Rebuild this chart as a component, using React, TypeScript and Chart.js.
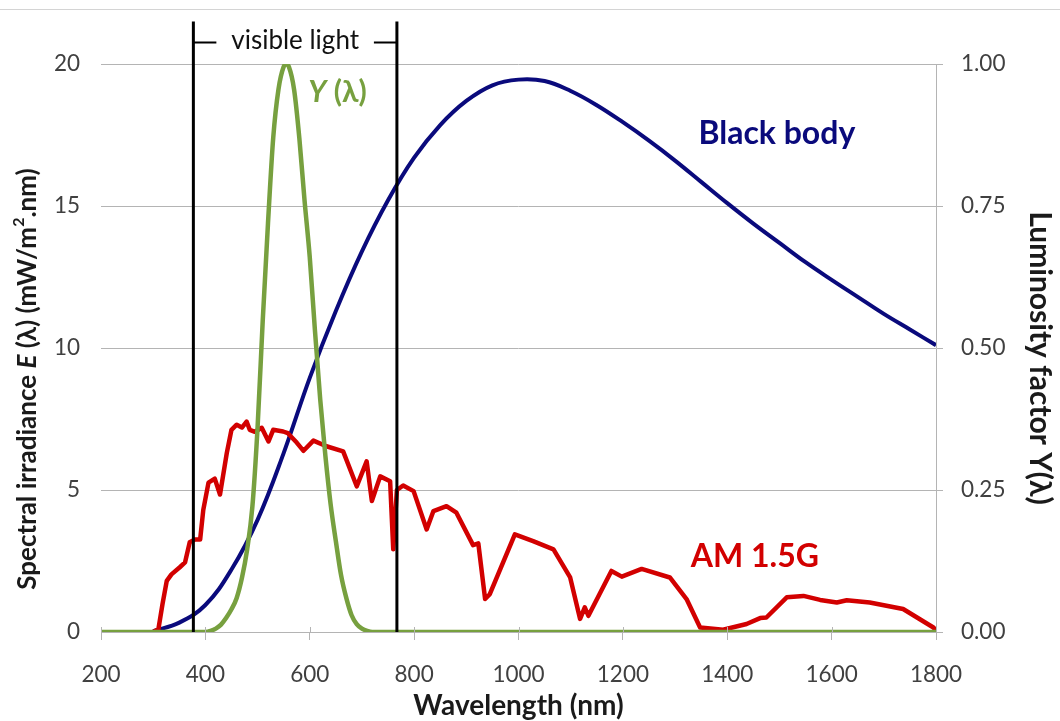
import React, { useEffect, useRef } from 'react';
import { Chart, registerables } from 'chart.js';

Chart.register(...registerables);

// ---- Data ----
const xTickValues = [200, 400, 600, 800, 1000, 1200, 1400, 1600, 1800];
const leftTickValues = [0, 5, 10, 15, 20];
const rightTickValues = [0, 0.25, 0.5, 0.75, 1.0];

const amWavelengths = [300, 310, 318, 326, 335, 351, 361, 370, 380, 390, 396, 406, 418, 428, 441, 450, 460, 470, 479, 485, 495, 508, 521, 530, 549, 558, 575, 588, 607, 632, 664, 690, 709, 719, 735, 754, 760, 767, 779, 799, 824, 837, 862, 881, 913, 923, 936, 945, 993, 1028, 1067, 1099, 1118, 1127, 1134, 1178, 1198, 1236, 1290, 1322, 1348, 1392, 1437, 1463, 1475, 1514, 1546, 1578, 1610, 1629, 1673, 1737, 1795, 1800];
const amIrradiance = [0, 0.1, 1.0, 1.8, 2.03, 2.28, 2.45, 3.16, 3.26, 3.26, 4.3, 5.26, 5.4, 4.84, 6.3, 7.12, 7.3, 7.2, 7.41, 7.12, 7.05, 7.19, 6.71, 7.12, 7.06, 7.0, 6.67, 6.38, 6.74, 6.54, 6.36, 5.13, 6.01, 4.61, 5.48, 5.31, 2.91, 5.0, 5.16, 4.96, 3.61, 4.26, 4.43, 4.2, 3.06, 3.12, 1.16, 1.33, 3.44, 3.2, 2.91, 1.92, 0.46, 0.87, 0.57, 2.15, 1.95, 2.22, 1.92, 1.16, 0.16, 0.08, 0.28, 0.49, 0.51, 1.22, 1.27, 1.13, 1.04, 1.12, 1.04, 0.81, 0.16, 0.05];

const bbWavelengths = [300, 350, 400, 450, 500, 550, 600, 650, 700, 750, 800, 850, 900, 950, 1000, 1050, 1100, 1150, 1200, 1250, 1300, 1350, 1400, 1450, 1500, 1550, 1600, 1650, 1700, 1750, 1800];
const bbIrradiance = [0.03, 0.33, 0.95, 2.2, 3.95, 6.3, 8.95, 11.3, 13.4, 15.2, 16.7, 17.85, 18.7, 19.25, 19.45, 19.4, 19.05, 18.55, 17.95, 17.3, 16.6, 15.85, 15.1, 14.38, 13.7, 13.02, 12.4, 11.8, 11.2, 10.65, 10.1];

const lumWavelengths = [200, 380, 400, 410, 420, 430, 440, 450, 460, 470, 480, 490, 500, 510, 520, 530, 540, 550, 555, 560, 570, 580, 590, 600, 610, 620, 630, 640, 650, 660, 670, 680, 690, 700, 710, 720, 740, 1800];
const lumFactor = [0, 0, 0, 0.002, 0.006, 0.013, 0.025, 0.04, 0.06, 0.095, 0.145, 0.22, 0.36, 0.55, 0.72, 0.87, 0.955, 0.995, 1.0, 0.995, 0.955, 0.87, 0.76, 0.66, 0.53, 0.41, 0.31, 0.225, 0.16, 0.1, 0.06, 0.03, 0.014, 0.006, 0.002, 0, 0, 0];

const visibleBounds = [377, 767];
const visibleLineRange = [0, 21.5];
const visibleBracketLevel = 20.76;

const COLORS = {
  red: '#d20000',
  navy: '#0a0a7c',
  green: '#77a03f',
  grid: '#b4b4b4',
  tick: '#404040',
  text: '#1a1a1a',
};

const FONT = 'Lato, "Open Sans", sans-serif';

type Part = { text: string; font: string; dy?: number };

function drawRich(ctx: CanvasRenderingContext2D, parts: Part[], cx: number, cy: number, angle: number, color: string) {
  ctx.save();
  ctx.translate(cx, cy);
  ctx.rotate(angle);
  ctx.fillStyle = color;
  ctx.textBaseline = 'middle';
  ctx.textAlign = 'left';
  let total = 0;
  const widths = parts.map((p) => {
    ctx.font = p.font;
    const w = ctx.measureText(p.text).width;
    total += w;
    return w;
  });
  let x = -total / 2;
  parts.forEach((p, i) => {
    ctx.font = p.font;
    ctx.fillText(p.text, x, p.dy || 0);
    x += widths[i];
  });
  ctx.restore();
}

const annotationPlugin = {
  id: 'annotations',
  beforeDraw(chart: any) {
    const ctx = chart.ctx as CanvasRenderingContext2D;
    ctx.save();
    ctx.strokeStyle = '#d4d4d4';
    ctx.lineWidth = 1;
    ctx.beginPath();
    ctx.moveTo(0, 9.5);
    ctx.lineTo(chart.width, 9.5);
    ctx.stroke();
    ctx.restore();
  },
  afterDraw(chart: any) {
    const ctx = chart.ctx as CanvasRenderingContext2D;
    const xs = chart.scales.x;
    const ys = chart.scales.y;
    const area = chart.chartArea;

    // inner half of x tick marks
    ctx.save();
    ctx.strokeStyle = COLORS.grid;
    ctx.lineWidth = 1;
    const y0 = ys.getPixelForValue(0);
    xTickValues.forEach((v) => {
      const px = Math.round(xs.getPixelForValue(v)) + 0.5;
      ctx.beginPath();
      ctx.moveTo(px, y0 - 5);
      ctx.lineTo(px, y0);
      ctx.stroke();
    });
    ctx.restore();

    // visible light bracket
    const xl = xs.getPixelForValue(visibleBounds[0]);
    const xr = xs.getPixelForValue(visibleBounds[1]);
    const yb = ys.getPixelForValue(visibleBracketLevel);
    ctx.save();
    ctx.strokeStyle = '#000';
    ctx.lineWidth = 2;
    ctx.beginPath();
    ctx.moveTo(xl, yb);
    ctx.lineTo(xl + 23, yb);
    ctx.moveTo(xr - 23, yb);
    ctx.lineTo(xr, yb);
    ctx.stroke();
    ctx.restore();
    drawRich(ctx, [{ text: 'visible light', font: `26px ${FONT}` }], (xl + xr) / 2, yb - 2, 0, '#111');

    // series labels
    drawRich(ctx, [{ text: 'Black body', font: `bold 32px ${FONT}` }], xs.getPixelForValue(1495), ys.getPixelForValue(17.55), 0, COLORS.navy);
    drawRich(ctx, [{ text: 'AM 1.5G', font: `bold 32px ${FONT}` }], xs.getPixelForValue(1453), ys.getPixelForValue(2.65), 0, COLORS.red);
    ctx.save();
    ctx.font = `italic bold 30px ${FONT}`;
    const wY = ctx.measureText('Y').width;
    ctx.font = `bold 30px ${FONT}`;
    const wL = ctx.measureText(' (λ)').width;
    ctx.restore();
    drawRich(ctx, [
      { text: 'Y', font: `italic bold 30px ${FONT}` },
      { text: ' (λ)', font: `bold 30px ${FONT}` },
    ], xs.getPixelForValue(597) + (wY + wL) / 2, ys.getPixelForValue(19.02), 0, COLORS.green);

    // axis titles
    const cxArea = (area.left + area.right) / 2;
    drawRich(ctx, [{ text: 'Wavelength (nm)', font: `bold 28px ${FONT}` }], cxArea, 706, 0, COLORS.text);
    drawRich(ctx, [
      { text: 'Spectral irradiance ', font: `bold 26px ${FONT}` },
      { text: 'E', font: `italic bold 26px ${FONT}` },
      { text: ' (λ) (mW/m', font: `bold 26px ${FONT}` },
      { text: '2', font: `bold 16px ${FONT}`, dy: -9 },
      { text: '.nm)', font: `bold 26px ${FONT}` },
    ], 28, 379, -Math.PI / 2, COLORS.text);
    drawRich(ctx, [{ text: 'Luminosity factor Y(λ)', font: `bold 30px ${FONT}` }], 1040, 358, Math.PI / 2, COLORS.text);
  },
};

export default function App() {
  const canvasRef = useRef<HTMLCanvasElement | null>(null);

  useEffect(() => {
    if (!canvasRef.current) return;
    const xyPairs = (xs: number[], ys: number[]) => xs.map((x, i) => ({ x, y: ys[i] }));

    const chart = new Chart(canvasRef.current, {
      type: 'line',
      data: {
        datasets: [
          {
            label: 'Visible start',
            data: visibleLineRange.map((y) => ({ x: visibleBounds[0], y })),
            borderColor: '#000',
            borderWidth: 3,
            pointRadius: 0,
            yAxisID: 'y',
            clip: false as any,
            order: 0,
          },
          {
            label: 'Visible end',
            data: visibleLineRange.map((y) => ({ x: visibleBounds[1], y })),
            borderColor: '#000',
            borderWidth: 3,
            pointRadius: 0,
            yAxisID: 'y',
            clip: false as any,
            order: 0,
          },
          {
            label: 'Y(λ)',
            data: xyPairs(lumWavelengths, lumFactor),
            borderColor: COLORS.green,
            borderWidth: 4.5,
            pointRadius: 0,
            cubicInterpolationMode: 'monotone',
            yAxisID: 'y2',
            order: 1,
          },
          {
            label: 'AM 1.5G',
            data: xyPairs(amWavelengths, amIrradiance),
            borderColor: COLORS.red,
            borderWidth: 4.5,
            borderJoinStyle: 'round',
            borderCapStyle: 'round',
            pointRadius: 0,
            tension: 0,
            yAxisID: 'y',
            order: 2,
          },
          {
            label: 'Black body',
            data: xyPairs(bbWavelengths, bbIrradiance),
            borderColor: COLORS.navy,
            borderWidth: 4,
            pointRadius: 0,
            tension: 0.4,
            yAxisID: 'y',
            order: 3,
          },
        ],
      },
      options: {
        animation: false,
        responsive: true,
        maintainAspectRatio: false,
        layout: { padding: { top: 64, left: 0, right: 0, bottom: 0 } },
        plugins: {
          legend: { display: false },
          tooltip: { enabled: false },
        },
        scales: {
          x: {
            type: 'linear',
            min: 200,
            max: 1800,
            afterBuildTicks: (scale: any) => {
              scale.ticks = xTickValues.map((value) => ({ value }));
            },
            afterFit: (scale: any) => {
              scale.height = 89;
            },
            ticks: {
              callback: (v: any) => String(v),
              font: { family: FONT, size: 22.5 },
              color: COLORS.tick,
              padding: 21,
              maxRotation: 0,
            },
            grid: { drawOnChartArea: false, color: COLORS.grid, tickLength: 8 },
            border: { display: true, color: COLORS.grid },
          },
          y: {
            type: 'linear',
            position: 'left',
            min: 0,
            max: 20,
            afterBuildTicks: (scale: any) => {
              scale.ticks = leftTickValues.map((value) => ({ value }));
            },
            afterFit: (scale: any) => {
              scale.width = 101;
            },
            ticks: {
              callback: (v: any) => String(v),
              font: { family: FONT, size: 22.5 },
              color: COLORS.tick,
              padding: 21,
            },
            grid: { color: COLORS.grid, drawTicks: false },
            border: { display: false },
          },
          y2: {
            type: 'linear',
            position: 'right',
            min: 0,
            max: 1,
            afterBuildTicks: (scale: any) => {
              scale.ticks = rightTickValues.map((value) => ({ value }));
            },
            afterFit: (scale: any) => {
              scale.width = 124;
            },
            ticks: {
              callback: (v: any) => Number(v).toFixed(2),
              font: { family: FONT, size: 22.5 },
              color: COLORS.tick,
              padding: 18,
            },
            grid: { drawOnChartArea: false, color: COLORS.grid, tickLength: 7 },
            border: { display: true, color: COLORS.grid },
          },
        },
      },
      plugins: [annotationPlugin],
    } as any);

    return () => chart.destroy();
  }, []);

  return (
    <div style={{ position: 'absolute', left: 0, top: 0, width: 1060, height: 721, background: '#fff' }}>
      <canvas ref={canvasRef} />
    </div>
  );
}
